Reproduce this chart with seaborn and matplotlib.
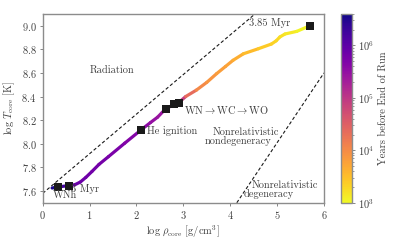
import numpy as np
import matplotlib
matplotlib.use('Agg')
import matplotlib.pyplot as plt
import seaborn as sns
from matplotlib.collections import LineCollection
from matplotlib.colors import LogNorm

sns.set_theme(style='ticks')
plt.rcParams['font.family'] = 'serif'
plt.rcParams['font.serif'] = ['cmr10', 'DejaVu Serif']
plt.rcParams['mathtext.fontset'] = 'cm'
plt.rcParams['axes.formatter.use_mathtext'] = True

# track: log rho, log T, log10(years before end of run)
track_rho = [0.20, 0.32, 0.55, 0.68, 0.80, 0.92, 1.05, 1.20, 1.40, 1.75, 2.10, 2.30, 2.45,
             2.62, 2.81, 2.90, 3.05, 3.28, 3.50, 3.71, 3.90, 4.06, 4.28, 4.60, 4.88,
             4.98, 5.06, 5.17, 5.42, 5.70]
track_T = [7.625, 7.634, 7.645, 7.652, 7.675, 7.715, 7.765, 7.825, 7.89, 8.005, 8.118,
           8.18, 8.225, 8.295, 8.334, 8.348, 8.40, 8.455, 8.52, 8.594, 8.655, 8.707,
           8.762, 8.805, 8.845, 8.872, 8.905, 8.93, 8.952, 9.00]
track_logage = [6.58, 6.50, 5.93, 5.90, 5.87, 5.85, 5.82, 5.80, 5.75, 5.70, 5.60, 5.52,
                5.46, 5.40, 5.30, 5.20, 4.60, 4.10, 3.95, 3.85, 3.78, 3.72, 3.60, 3.45,
                3.35, 3.30, 3.25, 3.20, 3.10, 3.00]

# marked models
mark_rho = [0.32, 0.55, 2.10, 2.62, 2.81, 2.90, 5.70]
mark_T = [7.634, 7.645, 8.118, 8.295, 8.334, 8.348, 9.00]

# boundary lines (endpoints)
rad_rho = [0.0, 4.53]
rad_T = [7.58, 9.10]
deg_rho = [4.14, 6.0]
deg_T = [7.50, 8.60]

fig = plt.figure(figsize=(4.07, 2.44), dpi=100)
ax = fig.add_axes([0.105, 0.169, 0.691, 0.774])
cax = fig.add_axes([0.838, 0.169, 0.027, 0.774])

norm = LogNorm(vmin=1e3, vmax=4e6)
cmap = plt.get_cmap('plasma_r')

pts = np.column_stack([track_rho, track_T])
segs = np.stack([pts[:-1], pts[1:]], axis=1)
age = 10 ** ((np.array(track_logage[:-1]) + np.array(track_logage[1:])) / 2)
lc = LineCollection(segs, cmap=cmap, norm=norm, linewidth=2.3, capstyle='round',
                    joinstyle='round', zorder=2)
lc.set_array(age)
ax.add_collection(lc)

sns.lineplot(x=rad_rho, y=rad_T, ax=ax, color='k', lw=0.8, linestyle=(0, (3, 2)), zorder=1)
sns.lineplot(x=deg_rho, y=deg_T, ax=ax, color='k', lw=0.8, linestyle=(0, (3, 2)), zorder=1)
sns.scatterplot(x=mark_rho, y=mark_T, ax=ax, marker='s', color='k', s=36,
                edgecolor='k', linewidth=0, zorder=3)

fs = 7.5
tc = '0.25'
ax.text(1.48, 8.62, 'Radiation', fontsize=fs, color=tc, ha='center', va='center')
ax.text(2.22, 8.11, 'He ignition', fontsize=fs, color=tc, ha='left', va='center')
ax.text(3.02, 8.285, r'WN$\rightarrow$WC$\rightarrow$WO', fontsize=fs, color=tc, ha='left', va='center')
ax.text(0.60, 7.615, '3 Myr', fontsize=fs, color=tc, ha='left', va='center')
ax.text(0.21, 7.56, 'WNh', fontsize=fs, color=tc, ha='left', va='center')
ax.text(5.27, 9.02, '3.85 Myr', fontsize=fs, color=tc, ha='right', va='center')
ax.text(4.33, 8.096, 'Nonrelativistic', fontsize=fs, color=tc, ha='center', va='center')
ax.text(4.16, 8.02, 'nondegeneracy', fontsize=fs, color=tc, ha='center', va='center')
ax.text(5.17, 7.648, 'Nonrelativistic', fontsize=fs, color=tc, ha='center', va='center')
ax.text(4.83, 7.578, 'degeneracy', fontsize=fs, color=tc, ha='center', va='center')

ax.set_xlim(0, 6)
ax.set_ylim(7.5, 9.1)
ax.set_yticks(np.arange(7.6, 9.01, 0.2))
ax.set_xticks(range(0, 7))
ax.set_xlabel(r'$\log\,\rho_{\rm core}$ [g/cm$^3$]', fontsize=fs, color=tc, labelpad=2)
ax.set_ylabel(r'$\log\,T_{\rm core}$ [K]', fontsize=fs, color=tc, labelpad=3)
ax.tick_params(labelsize=fs, colors='0.45', labelcolor=tc, length=2.5, width=0.6, pad=2)
for sp in ax.spines.values():
    sp.set_color('0.55')
    sp.set_linewidth(1.0)

sm = plt.cm.ScalarMappable(norm=norm, cmap=cmap)
cb = fig.colorbar(sm, cax=cax)
cb.set_label('Years before End of Run', fontsize=fs, color=tc, labelpad=3)
cb.ax.tick_params(labelsize=fs, colors='0.45', labelcolor=tc, length=2.5, width=0.6, pad=2)
cb.ax.tick_params(which='minor', length=1.5, width=0.5, colors='0.45')
cb.outline.set_edgecolor('0.55')
cb.outline.set_linewidth(1.0)

fig.savefig('out.png', dpi=100)
